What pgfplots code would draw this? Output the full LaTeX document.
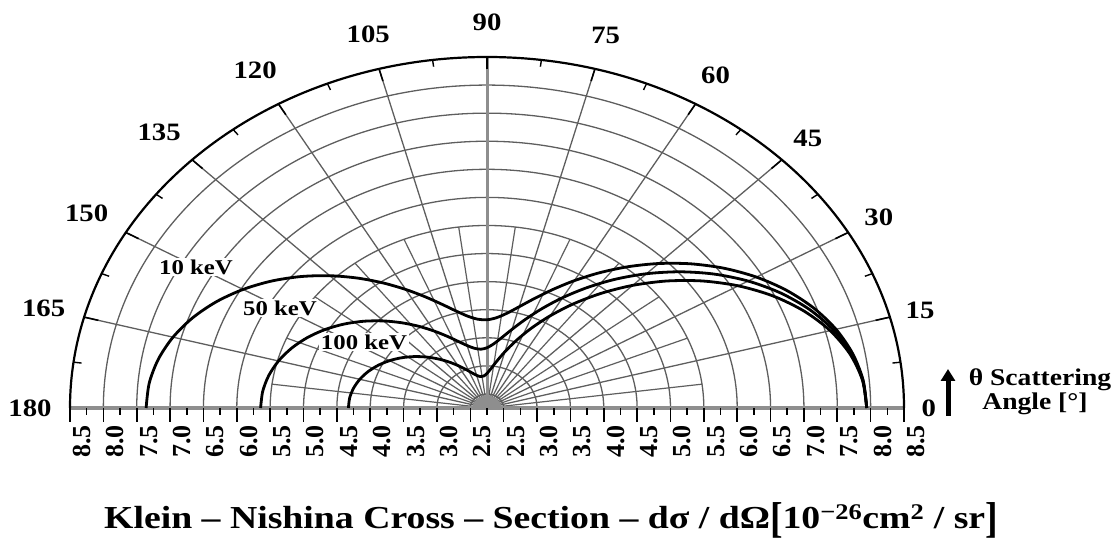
\documentclass[border=0pt]{standalone}
\usepackage{pgfplots}
\pgfplotsset{compat=1.18}
\usepackage{pgfplotstable}
\usepackage{graphicx}
\usepackage{fontspec}
\setmainfont{Liberation Serif}
\usetikzlibrary{arrows.meta}

\definecolor{gridc}{HTML}{5E5E5E}
\definecolor{basec}{HTML}{8E8E8E}

% Klein-Nishina differential cross-section d(sigma)/d(Omega) in 1e-26 cm^2/sr
% theta in degrees; photon energies 10, 50 and 100 keV
\pgfplotstableread{
theta  k10    k50    k100
0      7.941  7.941  7.941
5      7.909  7.905  7.899
10     7.816  7.798  7.775
15     7.665  7.624  7.574
20     7.459  7.389  7.303
25     7.205  7.101  6.975
30     6.912  6.770  6.600
35     6.588  6.407  6.193
40     6.243  6.023  5.768
45     5.888  5.631  5.338
50     5.533  5.243  4.917
55     5.190  4.868  4.517
60     4.868  4.519  4.146
65     4.576  4.203  3.814
70     4.323  3.928  3.526
75     4.117  3.700  3.287
80     3.962  3.522  3.097
85     3.863  3.396  2.957
90     3.821  3.323  2.866
95     3.837  3.301  2.821
100    3.910  3.329  2.818
105    4.037  3.401  2.852
110    4.213  3.512  2.918
115    4.432  3.658  3.011
120    4.687  3.831  3.124
125    4.969  4.024  3.253
130    5.270  4.230  3.391
135    5.581  4.442  3.533
140    5.891  4.654  3.674
145    6.191  4.858  3.810
150    6.472  5.048  3.936
155    6.726  5.219  4.049
160    6.945  5.366  4.146
165    7.122  5.485  4.224
170    7.252  5.572  4.281
175    7.332  5.625  4.316
180    7.359  5.643  4.327
}\kntable

\newcommand{\hs}[2]{\scalebox{#1}[1]{#2}}

\begin{document}
\begin{tikzpicture}
\path[use as bounding box] (0,0) rectangle (1120pt,540pt);

% polar grid: radius measured from 2.25 at the pole, 8.5 at the rim
\begin{scope}[shift={(487pt,132pt)}, x=66.72pt, y=56.16pt]
  \foreach \r in {0.25,0.75,1.25,1.75,2.25,2.75,3.25,3.75,4.25,4.75,5.25,5.75}
    \draw[gridc, line width=1.3pt] (\r,0) arc[start angle=0, end angle=180, x radius=\r, y radius=\r];
  \foreach \a in {7.5,22.5,37.5,52.5,67.5,82.5,97.5,112.5,127.5,142.5,157.5,172.5}
    \draw[gridc, line width=1.2pt] (0,0) -- (\a:3.25);
  \foreach \a in {15,30,45,60,75,105,120,135,150,165}
    \draw[gridc, line width=1.3pt] (0,0) -- (\a:6.25);
  \draw[basec, line width=3pt] (0,0) -- (0,6.25);
  \fill[basec] (0.22,0) arc[start angle=0, end angle=180, x radius=0.22, y radius=0.22] -- cycle;
  \draw[basec, line width=4.5pt] (-6.25,0) -- (6.25,0);
  \draw[black, line width=2.2pt] (6.25,0) arc[start angle=0, end angle=180, x radius=6.25, y radius=6.25];
  \foreach \a in {15,30,...,165}
    \draw[black, line width=1.6pt] (\a:6.03) -- (\a:6.25);
  \foreach \a in {7.5,22.5,37.5,52.5,67.5,82.5,97.5,112.5,127.5,142.5,157.5,172.5}
    \draw[black, line width=1.4pt] (\a:6.13) -- (\a:6.25);
  % angle labels
  \foreach \a/\r in {0/6.62,15/6.72,30/6.78,45/6.8,60/6.85,75/6.87,90/6.87,105/6.88,120/6.95,135/6.95,150/6.93,165/6.88,180/6.85}
    \node[font=\fontsize{25}{25}\selectfont\bfseries, inner sep=0pt] at (\a:\r) {\hs{1.15}{\a}};
\end{scope}

% energy labels
\begin{scope}[every node/.style={fill=white, inner sep=1.5pt, font=\fontsize{21}{21}\selectfont\bfseries}]
  \node at (196pt,273pt) {\hs{1.18}{10 keV}};
  \node at (280pt,232pt) {\hs{1.18}{50 keV}};
  \node at (364pt,198pt) {\hs{1.18}{100 keV}};
\end{scope}

\begin{axis}[
  scale only axis, width=834pt, height=351pt,
  at={(70pt,132pt)}, anchor=south west,
  xmin=-6.25, xmax=6.25, ymin=0, ymax=6.25,
  axis x line*=bottom, axis y line=none,
  x axis line style={draw=none},
  clip=false,
  xtick={-6.25,-5.75,-5.25,-4.75,-4.25,-3.75,-3.25,-2.75,-2.25,-1.75,-1.25,-0.75,-0.25,
         0.25,0.75,1.25,1.75,2.25,2.75,3.25,3.75,4.25,4.75,5.25,5.75,6.25},
  xticklabels={8.5,8.0,7.5,7.0,6.5,6.0,5.5,5.0,4.5,4.0,3.5,3.0,2.5,
               2.5,3.0,3.5,4.0,4.5,5.0,5.5,6.0,6.5,7.0,7.5,8.0,8.5},
  minor xtick={-6,-5.5,-5,-4.5,-4,-3.5,-3,-2.5,-2,-1.5,-1,-0.5,0,
               0.5,1,1.5,2,2.5,3,3.5,4,4.5,5,5.5,6},
  tick align=outside,
  major tick length=14pt, minor tick length=7pt,
  tick style={black, line width=1.6pt},
  xticklabel style={rotate=90, anchor=east, inner sep=3pt, yshift=-12pt,
                    font=\fontsize{26}{26}\selectfont\bfseries},
  ytick=\empty,
]
\addplot[black, line width=2.8pt, smooth, data cs=polar] table[x=theta, y expr=\thisrow{k10}-2.25]{\kntable};
\addplot[black, line width=2.8pt, smooth, data cs=polar] table[x=theta, y expr=\thisrow{k50}-2.25]{\kntable};
\addplot[black, line width=2.8pt, smooth, data cs=polar] table[x=theta, y expr=\thisrow{k100}-2.25]{\kntable};
\end{axis}

% scattering angle annotation
\draw[-{Triangle[length=12pt,width=14pt]}, line width=5pt] (948pt,124pt) -- (948pt,171pt);
\node[font=\fontsize{24}{24}\selectfont\bfseries, inner sep=0pt] at (1040pt,160pt) {\hs{1.15}{θ Scattering}};
\node[font=\fontsize{24}{24}\selectfont\bfseries, inner sep=0pt] at (1035pt,136pt) {\hs{1.15}{Angle [°]}};

% axis title
\node[inner sep=0pt] at (551pt,20pt) {\hs{1.18}{\fontsize{32}{36}\selectfont\bfseries
  Klein – Nishina Cross – Section – dσ / dΩ\raisebox{-4pt}{\scalebox{1}[1.35]{[}}10\textsuperscript{−26}cm\textsuperscript{2} / sr\raisebox{-4pt}{\scalebox{1}[1.35]{]}}}};
\end{tikzpicture}
\end{document}
